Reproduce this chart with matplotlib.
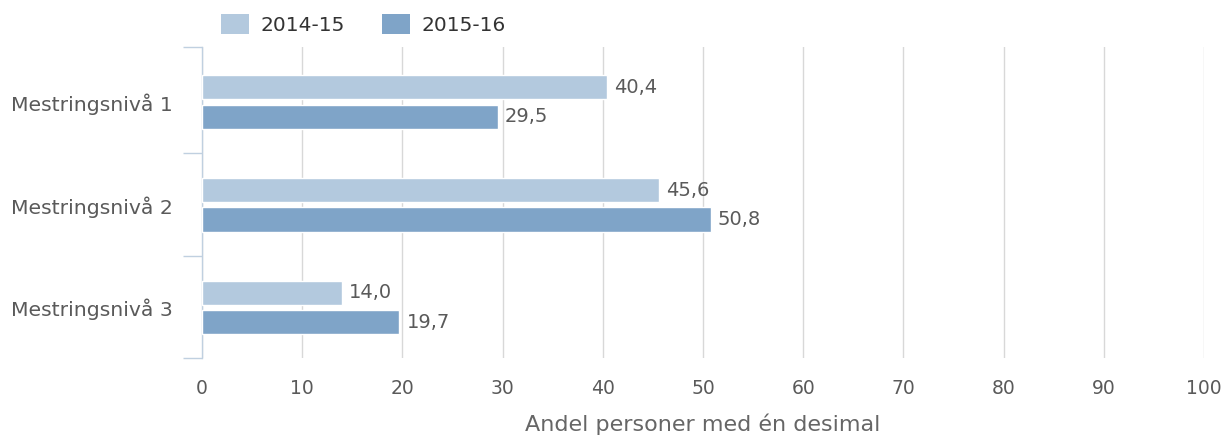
import numpy as np
import matplotlib.pyplot as plt
from matplotlib.patches import Patch

# -------------------------------------------------------------------------
# Data
# -------------------------------------------------------------------------

categories = ["Mestringsnivå 1", "Mestringsnivå 2", "Mestringsnivå 3"]
series_names = ["2014-15", "2015-16"]
values_1415 = [40.4, 45.6, 14.0]
values_1516 = [29.5, 50.8, 19.7]

colors = ["#b3c9de", "#7fa4c8"]
text_color = "#5a5a5a"

fig = plt.figure(figsize=(12.31, 4.38), dpi=100)
ax = fig.add_axes([0.1641, 0.1826, 0.8139, 0.7101])

y = np.arange(len(categories))
offset = 0.1435
height = 0.235

bars_a = ax.barh(y - offset, values_1415, height=height, color=colors[0],
                 edgecolor="white", linewidth=1, zorder=3)
bars_b = ax.barh(y + offset, values_1516, height=height, color=colors[1],
                 edgecolor="white", linewidth=1, zorder=3)

for bars, vals in [(bars_a, values_1415), (bars_b, values_1516)]:
    for b, v in zip(bars, vals):
        ax.text(v + 0.7, b.get_y() + b.get_height() / 2,
                f"{v:.1f}".replace(".", ","), va="center", ha="left",
                fontsize=14, color=text_color)

ax.set_xlim(0, 100)
ax.set_ylim(2.49, -0.535)
ax.set_xticks(np.arange(0, 101, 10))
ax.tick_params(axis="x", length=0, pad=15, labelsize=13.5, labelcolor=text_color)
ax.grid(axis="x", color="#d8d8d8", linewidth=1, zorder=0)

ax.set_yticks(y)
ax.set_yticklabels(categories)
ax.tick_params(axis="y", which="major", length=0, pad=21, labelsize=14.7,
               labelcolor=text_color)
ax.set_yticks([-0.535, 0.5, 1.5, 2.49], minor=True)
ax.tick_params(axis="y", which="minor", length=14, width=1, color="#c0d0e0")

for side in ["top", "right", "bottom"]:
    ax.spines[side].set_visible(False)
ax.spines["left"].set_color("#c0d0e0")
ax.spines["left"].set_linewidth(1)

ax.set_xlabel("Andel personer med én desimal", fontsize=16,
              color="#666666", labelpad=11)

handles = [Patch(facecolor=c, edgecolor="none") for c in colors]
fig.legend(handles, series_names, loc="upper left", bbox_to_anchor=(0.165, 1.009),
           ncol=2, frameon=False, fontsize=14.5, handlelength=1.4,
           handleheight=1.15, columnspacing=1.85, handletextpad=0.55,
           labelcolor="#333333")

fig.savefig("out.png", dpi=100)
